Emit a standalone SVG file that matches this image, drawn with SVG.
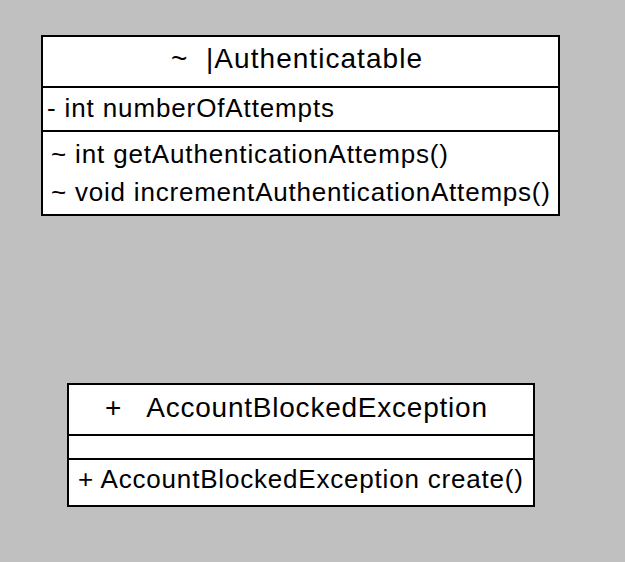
<svg xmlns="http://www.w3.org/2000/svg" width="625" height="562" viewBox="0 0 625 562">
<style>
.box{fill:#ffffff;stroke:#000000;stroke-width:2}
.div{stroke:#000000;stroke-width:2}
.t{font-family:"Liberation Sans",Arial,sans-serif;fill:#000000}
.title{font-size:28px}
.mem{font-size:26px}
</style>
<rect x="0" y="0" width="625" height="562" fill="#c0c0c0"/>
<g id="Authenticatable">
<rect class="box" x="42" y="36" width="517" height="179"/>
<line class="div" x1="42" y1="87" x2="559" y2="87"/>
<line class="div" x1="42" y1="131" x2="559" y2="131"/>
<text class="t title" x="171" y="68" textLength="251" lengthAdjust="spacing" xml:space="preserve">~  |Authenticatable</text>
<text class="t mem" x="47" y="117" textLength="287" lengthAdjust="spacing">- int numberOfAttempts</text>
<text class="t mem" x="51" y="163" textLength="397" lengthAdjust="spacing">~ int getAuthenticationAttemps()</text>
<text class="t mem" x="51" y="201" textLength="499" lengthAdjust="spacing">~ void incrementAuthenticationAttemps()</text>
</g>
<g id="AccountBlockedException">
<rect class="box" x="68" y="384" width="466" height="122"/>
<line class="div" x1="68" y1="435" x2="534" y2="435"/>
<line class="div" x1="68" y1="459" x2="534" y2="459"/>
<text class="t title" x="105" y="417" textLength="382" lengthAdjust="spacing" xml:space="preserve">+   AccountBlockedException</text>
<text class="t mem" x="78" y="488" textLength="445" lengthAdjust="spacing">+ AccountBlockedException create()</text>
</g>
<g id="connectors"></g>
</svg>
